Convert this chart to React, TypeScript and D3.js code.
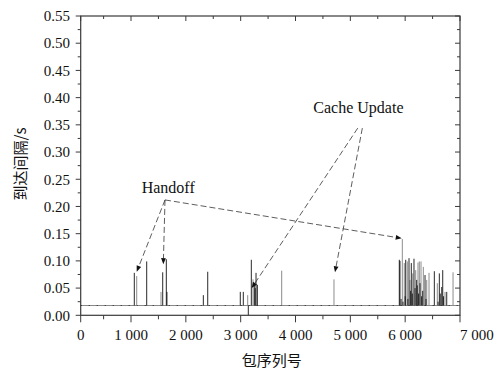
import React from "react";
import * as d3 from "d3";

// ---- data ----
const BASELINE = 0.018;
// dark series: [packet index, interval s]
const darkIdx = [1060, 1286, 1578, 1644, 1655, 2319, 2399, 2993, 3048, 3139, 3194, 3249, 3265, 3280, 3304,
  5893, 5905, 5925, 5960, 6000, 6010, 6050, 6070, 6100, 6112, 6130, 6161, 6180, 6210, 6220, 6245, 6271, 6300, 6320, 6362, 6380,
  6532, 6600, 6623, 6640, 6667, 6685, 6700, 6758];
const darkVal = [0.078, 0.099, 0.079, 0.103, 0.043, 0.037, 0.080, 0.043, 0.043, 0.0, 0.102, 0.059, 0.050, 0.078, 0.056,
  0.102, 0.100, 0.030, 0.025, 0.035, 0.102, 0.030, 0.105, 0.045, 0.096, 0.040, 0.104, 0.050, 0.065, 0.055, 0.040, 0.059, 0.035, 0.045, 0.074, 0.030,
  0.081, 0.025, 0.077, 0.040, 0.052, 0.083, 0.035, 0.043];
// light series
const lightIdx = [1104, 1547, 3128, 3225, 3748, 4702, 5948, 5984, 6039, 6088, 6138, 6192, 6234, 6258, 6289, 6331, 6393, 6435, 6586, 6727, 6873];
const lightVal = [0.072, 0.043, 0.037, 0.066, 0.082, 0.066, 0.140, 0.096, 0.099, 0.065, 0.077, 0.083, 0.097, 0.099, 0.099, 0.089, 0.065, 0.078, 0.059, 0.043, 0.079];

const xMajor = [0, 1000, 2000, 3000, 4000, 5000, 6000, 7000];
const xMajorLabels = ["0", "1 000", "2 000", "3 000", "4 000", "5 000", "6 000", "7 000"];
const xMinor = [500, 1500, 2500, 3500, 4500, 5500, 6500];
const yMajor = [0, 0.05, 0.1, 0.15, 0.2, 0.25, 0.3, 0.35, 0.4, 0.45, 0.5, 0.55];
const yMinor = [0.025, 0.075, 0.125, 0.175, 0.225, 0.275, 0.325, 0.375, 0.425, 0.475, 0.525];

const xTitle = "包序列号";
const yTitle = "到达间隔/s";

// annotations (data coords)
const handoffLabel = { text: "Handoff", x: 1195, y: 0.224 };
const handoffFrom = { x: 1620, y: 0.212 };
const handoffTo = [{ x: 1104, y: 0.080 }, { x: 1589, y: 0.094 }, { x: 5937, y: 0.1415 }];
const cacheLabel = { text: "Cache Update", x: 4325, y: 0.371 };
const cacheFrom = [{ x: 5135, y: 0.344 }, { x: 5219, y: 0.344 }];
const cacheTo = [{ x: 3201, y: 0.050 }, { x: 4720, y: 0.079 }];

const W = 495, H = 373;
const L = 80.7, R = 460, T = 16, B = 315.3;

export default function App() {
  const x = d3.scaleLinear().domain([0, 500, 7000]).range([L, 103.6, R]);
  const y = d3.scaleLinear().domain([0, 0.55]).range([B, T]);

  const serif = "'Liberation Serif', 'Times New Roman', serif";
  const cjk = "'Noto Sans CJK SC', sans-serif";
  const axisColor = "#3a3a3a";

  const arrow = (x1: number, y1: number, x2: number, y2: number, k: string) => {
    const ang = Math.atan2(y2 - y1, x2 - x1);
    const len = 6, wid = 2.4;
    const bx = x2 - len * Math.cos(ang), by = y2 - len * Math.sin(ang);
    const px = -Math.sin(ang) * wid, py = Math.cos(ang) * wid;
    return (
      <g key={k}>
        <line x1={x1} y1={y1} x2={bx} y2={by} stroke="#333" strokeWidth={0.8} strokeDasharray="6 3" />
        <path d={`M${x2},${y2}L${bx + px},${by + py}L${bx - px},${by - py}Z`} fill="#111" />
      </g>
    );
  };

  return (
    <svg width={W} height={H} style={{ position: "absolute", left: 0, top: 0, background: "#fff" }}>
      <rect x={0} y={0} width={W} height={H} fill="#fff" />
      {/* baseline of inter-arrival times */}
      <line x1={x(0)} x2={x(7000)} y1={y(BASELINE)} y2={y(BASELINE)} stroke="#7a7a7a" strokeWidth={0.9} />
      <line x1={x(0)} x2={x(7000)} y1={y(BASELINE)} y2={y(BASELINE)} stroke="#222" strokeWidth={0.9} strokeDasharray="1 7" />
      {/* data */}
      {lightIdx.map((d, i) => (
        <line key={"l" + i} x1={x(d)} x2={x(d)} y1={y(BASELINE)} y2={y(lightVal[i])} stroke="#8c8c8c" strokeWidth={1} />
      ))}
      {darkIdx.map((d, i) => (
        <line key={"d" + i} x1={x(d)} x2={x(d)} y1={y(BASELINE)} y2={y(darkVal[i])} stroke="#111" strokeWidth={0.9} />
      ))}

      {/* frame */}
      <rect x={L} y={T} width={R - L} height={B - T} fill="none" stroke={axisColor} strokeWidth={1.2} />
      {xMajor.map((v, i) => (
        <g key={"xm" + i}>
          <line x1={x(v)} x2={x(v)} y1={B} y2={B + 7} stroke={axisColor} strokeWidth={1} />
          <line x1={x(v)} x2={x(v)} y1={T} y2={T + 5} stroke={axisColor} strokeWidth={1} />
          <text x={x(v)} y={340} textAnchor={i === xMajor.length - 1 ? "start" : "middle"}
            fontFamily={serif} fontSize={15} fill="#111">{xMajorLabels[i]}</text>
        </g>
      ))}
      {xMinor.map((v, i) => (
        <g key={"xn" + i}>
          <line x1={x(v)} x2={x(v)} y1={B} y2={B + 4} stroke={axisColor} strokeWidth={1} />
          <line x1={x(v)} x2={x(v)} y1={T} y2={T + 3} stroke={axisColor} strokeWidth={1} />
        </g>
      ))}
      {yMajor.map((v, i) => (
        <g key={"ym" + i}>
          <line x1={L - 5} x2={L} y1={y(v)} y2={y(v)} stroke={axisColor} strokeWidth={1} />
          <line x1={R - 5} x2={R} y1={y(v)} y2={y(v)} stroke={axisColor} strokeWidth={1} />
          <text x={70} y={y(v)} dy="0.35em" textAnchor="end" fontFamily={serif} fontSize={15} fill="#111">
            {v.toFixed(2)}
          </text>
        </g>
      ))}
      {yMinor.map((v, i) => (
        <g key={"yn" + i}>
          <line x1={L - 3} x2={L} y1={y(v)} y2={y(v)} stroke={axisColor} strokeWidth={1} />
          <line x1={R - 3} x2={R} y1={y(v)} y2={y(v)} stroke={axisColor} strokeWidth={1} />
        </g>
      ))}

      {/* titles */}
      <text x={271.7} y={361} dy="0.35em" textAnchor="middle" fontFamily={cjk} fontSize={15} fill="#111">{xTitle}</text>
      <text transform="translate(21,164) rotate(-90)" dy="0.35em" textAnchor="middle" fontFamily={cjk} fontSize={15} fill="#111">{yTitle}</text>

      {/* annotations */}
      <text x={x(handoffLabel.x)} y={y(handoffLabel.y)} fontFamily={serif} fontSize={16} fill="#111">{handoffLabel.text}</text>
      <text x={x(cacheLabel.x)} y={y(cacheLabel.y)} fontFamily={serif} fontSize={16} fill="#111">{cacheLabel.text}</text>
      {handoffTo.map((p, i) => arrow(x(handoffFrom.x), y(handoffFrom.y), x(p.x), y(p.y), "h" + i))}
      {cacheTo.map((p, i) => arrow(x(cacheFrom[i].x), y(cacheFrom[i].y), x(p.x), y(p.y), "c" + i))}
    </svg>
  );
}
